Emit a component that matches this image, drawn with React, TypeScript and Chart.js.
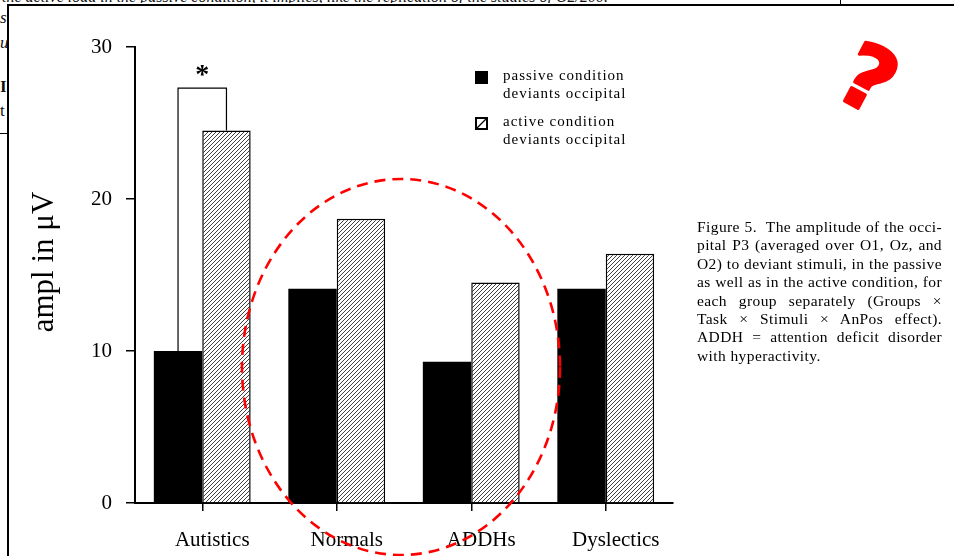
import React, { useEffect, useRef } from "react";
import { Chart, registerables } from "chart.js";

Chart.register(...registerables);

// ---- data ----
const categories = ["Autistics", "Normals", "ADDHs", "Dyslectics"];
const passiveValues = [10.0, 14.1, 9.3, 14.1];
const activeValues = [24.5, 18.7, 14.5, 16.4];
const yTicks = [0, 10, 20, 30];
const passiveLabel = ["passive condition", "deviants occipital"];
const activeLabel = ["active condition", "deviants occipital"];
const yTitle = "ampl in \u03bcV";
const bracketTop = 27.3;
const significanceMark = "*";
const captionLines = [
  "Figure 5.\u00a0 The amplitude of the occi-",
  "pital P3 (averaged over O1, Oz, and",
  "O2) to deviant stimuli, in the passive",
  "as well as in the active condition, for",
  "each group separately (Groups \u00d7",
  "Task \u00d7 Stimuli \u00d7 AnPos effect).",
  "ADDH = attention deficit disorder",
  "with hyperactivity.",
];
const topFragment =
  "the active load in the passive condition, it implies, like the replication of the studies of O2/200.";

const SERIF = "'Liberation Serif', 'Times New Roman', serif";

function makeHatch(): CanvasPattern | string {
  const s = 4;
  const c = document.createElement("canvas");
  c.width = s;
  c.height = s;
  const g = c.getContext("2d");
  if (!g) return "#fff";
  g.fillStyle = "#fff";
  g.fillRect(0, 0, s, s);
  g.strokeStyle = "#2a2a2a";
  g.lineWidth = 0.9;
  g.beginPath();
  g.moveTo(-1, s + 1);
  g.lineTo(s + 1, -1);
  g.moveTo(-1, 1);
  g.lineTo(1, -1);
  g.moveTo(s - 1, s + 1);
  g.lineTo(s + 1, s - 1);
  g.stroke();
  return g.createPattern(c, "repeat") || "#fff";
}

const annotPlugin = {
  id: "annot",
  afterDatasetsDraw(chart: any) {
    const ctx: CanvasRenderingContext2D = chart.ctx;
    const y = chart.scales.y;
    const b0 = chart.getDatasetMeta(0).data[0];
    const b1 = chart.getDatasetMeta(1).data[0];
    const yTop = y.getPixelForValue(bracketTop);
    ctx.save();
    // significance bracket
    ctx.strokeStyle = "#000";
    ctx.lineWidth = 1.2;
    ctx.beginPath();
    ctx.moveTo(b0.x, b0.y);
    ctx.lineTo(b0.x, yTop);
    ctx.lineTo(b1.x, yTop);
    ctx.lineTo(b1.x, b1.y);
    ctx.stroke();
    ctx.fillStyle = "#000";
    ctx.font = `bold 28px ${SERIF}`;
    ctx.textAlign = "center";
    ctx.textBaseline = "alphabetic";
    ctx.fillText(significanceMark, (b0.x + b1.x) / 2, yTop - 5);

    // y-axis title
    ctx.save();
    ctx.translate(45, 262);
    ctx.rotate(-Math.PI / 2);
    ctx.font = `31px ${SERIF}`;
    ctx.textAlign = "center";
    ctx.textBaseline = "middle";
    ctx.fillText(yTitle, 0, 0);
    ctx.restore();

    // legend
    const lx = 475;
    ctx.fillRect(lx, 71, 13, 13);
    ctx.lineWidth = 2;
    ctx.strokeRect(lx + 1, 118, 11, 11);
    ctx.lineWidth = 1.2;
    ctx.beginPath();
    ctx.moveTo(lx + 2, 128);
    ctx.lineTo(lx + 11, 119);
    ctx.stroke();
    ctx.font = `15px ${SERIF}`;
    (ctx as any).letterSpacing = "1px";
    ctx.textAlign = "left";
    ctx.textBaseline = "middle";
    ctx.fillText(passiveLabel[0], 503, 76);
    ctx.fillText(passiveLabel[1], 503, 94);
    ctx.fillText(activeLabel[0], 503, 122);
    ctx.fillText(activeLabel[1], 503, 140);
    ctx.restore();
  },
};

export default function App() {
  const ref = useRef<HTMLCanvasElement>(null);

  useEffect(() => {
    document.body.style.margin = "0";
    if (!ref.current) return;
    const hatch = makeHatch();
    const chart = new Chart(ref.current, {
      type: "bar",
      data: {
        labels: categories,
        datasets: [
          {
            label: passiveLabel.join(" "),
            data: passiveValues,
            backgroundColor: "#000",
            borderColor: "#000",
            borderWidth: 0,
            categoryPercentage: 0.72,
            barPercentage: 1.0,
          },
          {
            label: activeLabel.join(" "),
            data: activeValues,
            backgroundColor: hatch as any,
            borderColor: "#000",
            borderWidth: 1.5,
            categoryPercentage: 0.72,
            barPercentage: 1.0,
          },
        ],
      },
      options: {
        responsive: false,
        animation: false,
        devicePixelRatio: 1,
        layout: { padding: { left: 30, right: 281, top: 47, bottom: 0 } },
        plugins: {
          legend: { display: false },
          tooltip: { enabled: false },
        },
        scales: {
          x: {
            offset: true,
            grid: {
              offset: false,
              drawOnChartArea: false,
              drawTicks: true,
              tickLength: 8,
              color: "#000",
              lineWidth: 1.5,
            },
            border: { color: "#000", width: 2 },
            ticks: {
              color: "#000",
              font: { family: SERIF, size: 21 },
              padding: 17,
              labelOffset: 10,
            },
            afterFit: (s: any) => {
              s.height = 53;
            },
          } as any,
          y: {
            min: 0,
            max: 30,
            afterBuildTicks: (s: any) => {
              s.ticks = yTicks.map((v) => ({ value: v }));
            },
            grid: {
              drawOnChartArea: false,
              drawTicks: true,
              tickLength: 9,
              color: "#000",
              lineWidth: 1.5,
            },
            border: { color: "#000", width: 2 },
            ticks: {
              color: "#000",
              font: { family: SERIF, size: 21 },
              padding: 14,
            },
            title: { display: false, text: yTitle },
            afterFit: (s: any) => {
              s.width = 105;
            },
          } as any,
        },
      },
      plugins: [annotPlugin],
    });
    return () => chart.destroy();
  }, []);

  return (
    <div
      style={{
        position: "relative",
        width: 954,
        height: 556,
        overflow: "hidden",
        background: "#fff",
        fontFamily: SERIF,
      }}
    >
      {/* scanned page fragments */}
      <div style={{ position: "absolute", left: 0, top: 0, width: 740, height: 3, overflow: "hidden" }}>
        <div style={{ position: "absolute", left: 2, top: -12, fontStyle: "italic", fontSize: 16, whiteSpace: "nowrap", color: "#111" }}>
          {topFragment}
        </div>
      </div>
      <div style={{ position: "absolute", left: 7, top: 4, width: 947, height: 2, background: "#000" }} />
      <div style={{ position: "absolute", left: 840, top: 0, width: 1, height: 5, background: "#000" }} />
      <div style={{ position: "absolute", left: 7, top: 4, width: 2, height: 552, background: "#000" }} />
      <div style={{ position: "absolute", left: 0, top: 0, width: 7, height: 556, overflow: "hidden", fontSize: 17, color: "#111" }}>
        <div style={{ position: "absolute", left: 0, top: 8, fontStyle: "italic" }}>s</div>
        <div style={{ position: "absolute", left: 0, top: 33, fontStyle: "italic" }}>u</div>
        <div style={{ position: "absolute", left: 0, top: 77, fontWeight: "bold" }}>I</div>
        <div style={{ position: "absolute", left: 0, top: 101 }}>t</div>
        <div style={{ position: "absolute", left: 0, top: 133, width: 7, height: 1, background: "#000" }} />
      </div>

      <canvas ref={ref} width={954} height={556} style={{ position: "absolute", left: 0, top: 0 }} />

      {/* caption */}
      <div style={{ position: "absolute", left: 697, top: 218, width: 245, fontSize: 15.5, letterSpacing: "0.4px", lineHeight: "18.4px", color: "#000" }}>
        {captionLines.map((t, i) => (
          <div
            key={i}
            style={{
              textAlign: "justify",
              textAlignLast: i === captionLines.length - 1 ? "left" : "justify",
              whiteSpace: "nowrap",
            } as any}
          >
            {t}
          </div>
        ))}
      </div>

      {/* red annotations */}
      <svg width={954} height={556} style={{ position: "absolute", left: 0, top: 0, pointerEvents: "none" }}>
        <ellipse cx={401} cy={367} rx={159} ry={188} fill="none" stroke="#ff0000" strokeWidth={2.6} strokeDasharray="11 7" />
        <text
          x={0}
          y={0}
          transform="translate(868 79) rotate(28)"
          fontFamily="'DejaVu Sans', sans-serif"
          fontWeight="bold"
          fontSize={88}
          fill="#ff0000"
          stroke="#ff0000"
          strokeWidth={3}
          strokeLinejoin="round"
          textAnchor="middle"
          dominantBaseline="central"
        >
          ?
        </text>
      </svg>
    </div>
  );
}
